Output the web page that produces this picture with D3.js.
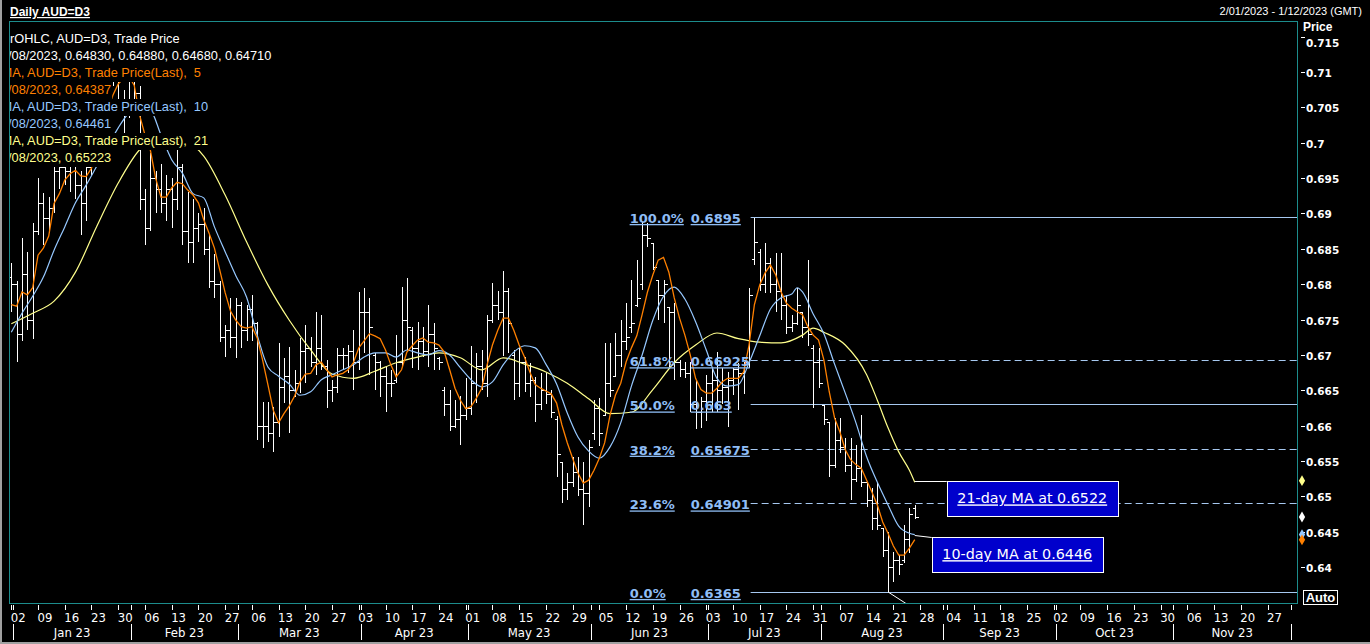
<!DOCTYPE html>
<html><head><meta charset="utf-8">
<script src="https://cdn.jsdelivr.net/npm/d3@7"></script>
<style>html,body{margin:0;padding:0;background:#000;overflow:hidden}svg{display:block}</style>
</head><body><svg id="c" width="1370" height="644"></svg>
<script>
// ---------------- DATA ----------------
// trading-day index 0 = Mon 02 Jan 2023, weekdays only
const opens = [.6810,.6800,.6730,.6815,.6750,.6875,.6915,.6893,.6908,.6960,
.6965,.6960,.6968,.6940,.6915,.6965,.7008,.7025,.7085,.7115,
.7105,.7055,.7055,.7135,.7070,.6920,.6880,.6950,.6935,.6915,
.6935,.6920,.6965,.6875,.6860,.6880,.6885,.6850,.6805,.6800,
.6725,.6735,.6725,.6770,.6735,.6765,.6745,.6600,.6600,.6590,
.6605,.6655,.6670,.6650,.6660,.6705,.6710,.6690,.6710,.6685,
.6650,.6655,.6700,.6700,.6705,.6690,.6760,.6760,.6700,.6690,
.6670,.6660,.6665,.6690,.6750,.6735,.6710,.6720,.6705,.6730,
.6695,.6650,.6630,.6600,.6610,.6615,.6625,.6660,.6685,.6660,
.6750,.6770,.6760,.6790,.6700,.6660,.6690,.6660,.6665,.6630,
.6650,.6645,.6610,.6548,.6510,.6520,.6535,.6510,.6505,.6590,
.6625,.6615,.6660,.6670,.6700,.6720,.6740,.6770,.6800,.6870,
.6858,.6806,.6785,.6768,.6760,.6690,.6680,.6675,.6630,.6620,
.6635,.6660,.6665,.6650,.6655,.6665,.6680,.6675,.6690,.6835,
.6845,.6800,.6830,.6800,.6790,.6770,.6740,.6745,.6761,.6740,
.6710,.6690,.6629,.6605,.6545,.6580,.6570,.6545,.6525,.6540,
.6520,.6495,.6470,.6456,.6425,.6400,.6410,.6410,.6440,.6483];
const highs = [.6830,.6805,.6865,.6845,.6887,.6950,.6929,.6923,.6969,.6992,
.6995,.6990,.7063,.6960,.6975,.7020,.7030,.7090,.7140,.7143,
.7120,.7075,.7140,.7158,.7080,.6935,.6985,.6960,.6970,.6955,
.6950,.6990,.6970,.6930,.6920,.6900,.6908,.6870,.6842,.6805,
.6742,.6780,.6780,.6775,.6770,.6785,.6747,.6634,.6634,.6627,
.6717,.6696,.6711,.6679,.6724,.6743,.6726,.6760,.6757,.6693,
.6665,.6710,.6710,.6714,.6735,.6789,.6795,.6781,.6703,.6692,
.6683,.6679,.6728,.6796,.6809,.6740,.6747,.6740,.6771,.6745,
.6697,.6655,.6651,.6636,.6642,.6667,.6712,.6703,.6707,.6757,
.6802,.6790,.6818,.6795,.6707,.6710,.6697,.6689,.6669,.6675,
.6675,.6651,.6613,.6548,.6533,.6556,.6556,.6548,.6580,.6636,
.6639,.6717,.6717,.6731,.6750,.6774,.6806,.6834,.6888,.6886,
.6858,.6806,.6806,.6768,.6774,.6693,.6690,.6690,.6665,.6640,
.6672,.6682,.6704,.6682,.6676,.6682,.6689,.6690,.6795,.6894,
.6850,.6858,.6837,.6844,.6844,.6785,.6757,.6795,.6761,.6834,
.6714,.6710,.6629,.6605,.6611,.6611,.6583,.6583,.6573,.6615,
.6520,.6512,.6520,.6456,.6450,.6422,.6417,.6460,.6483,.6488];
const lows = [.6760,.6690,.6720,.6735,.6722,.6870,.6855,.6872,.6900,.6935,
.6940,.6930,.6920,.6870,.6890,.6955,.6985,.7000,.7080,.7080,
.7050,.7000,.7035,.7060,.6905,.6856,.6875,.6900,.6900,.6890,
.6880,.6905,.6855,.6830,.6830,.6860,.6841,.6795,.6781,.6719,
.6697,.6710,.6696,.6710,.6720,.6720,.6580,.6568,.6577,.6563,
.6584,.6632,.6590,.6641,.6646,.6661,.6683,.6672,.6679,.6625,
.6634,.6646,.6679,.6675,.6651,.6679,.6703,.6672,.6651,.6641,
.6620,.6640,.6660,.6683,.6707,.6682,.6679,.6697,.6683,.6679,
.6679,.6613,.6592,.6597,.6573,.6608,.6615,.6632,.6651,.6641,
.6745,.6750,.6698,.6703,.6636,.6641,.6648,.6641,.6605,.6622,
.6630,.6611,.6528,.6491,.6495,.6514,.6500,.6460,.6485,.6580,
.6572,.6613,.6641,.6669,.6683,.6707,.6731,.6768,.6792,.6853,
.6820,.6750,.6745,.6683,.6665,.6669,.6668,.6620,.6595,.6597,
.6606,.6620,.6620,.6630,.6598,.6644,.6622,.6645,.6682,.6827,
.6790,.6788,.6788,.6761,.6750,.6729,.6733,.6743,.6724,.6712,
.6625,.6653,.6601,.6528,.6540,.6562,.6535,.6495,.6521,.6514,
.6485,.6453,.6453,.6415,.6365,.6379,.6389,.6406,.6420,.6468];
const closes = [.6800,.6730,.6815,.6750,.6875,.6915,.6893,.6908,.6960,.6965,
.6960,.6968,.6940,.6915,.6965,.7008,.7025,.7085,.7115,.7105,
.7055,.7055,.7135,.7070,.6920,.6880,.6950,.6935,.6915,.6935,
.6920,.6965,.6875,.6860,.6880,.6885,.6850,.6805,.6800,.6725,
.6735,.6725,.6770,.6735,.6765,.6745,.6600,.6600,.6590,.6605,
.6655,.6670,.6650,.6660,.6705,.6710,.6690,.6710,.6685,.6650,
.6655,.6700,.6700,.6705,.6690,.6760,.6760,.6740,.6690,.6670,
.6660,.6660,.6690,.6750,.6740,.6710,.6720,.6705,.6730,.6710,
.6690,.6630,.6600,.6610,.6615,.6625,.6660,.6685,.6660,.6750,
.6770,.6760,.6790,.6745,.6660,.6690,.6660,.6665,.6630,.6650,
.6645,.6620,.6560,.6510,.6520,.6535,.6510,.6505,.6570,.6625,
.6590,.6660,.6650,.6700,.6720,.6725,.6745,.6780,.6870,.6865,
.6825,.6785,.6800,.6760,.6690,.6680,.6675,.6630,.6620,.6635,
.6660,.6665,.6650,.6655,.6665,.6680,.6675,.6690,.6785,.6860,
.6800,.6830,.6800,.6790,.6770,.6740,.6745,.6770,.6740,.6730,
.6690,.6660,.6610,.6545,.6580,.6570,.6545,.6525,.6540,.6520,
.6495,.6470,.6460,.6425,.6400,.6410,.6405,.6440,.6475,.6471];
// 5-day MA, one value per trading day
const ma5 = [.6771,.6769,.6789,.6785,.6795,.6841,.6851,.6868,.6914,.6928,
.6947,.6956,.6961,.6953,.6952,.6964,.6987,.7014,.7044,.7067,
.7083,.7091,.7094,.7081,.7039,.7011,.6990,.6950,.6923,.6923,
.6936,.6944,.6942,.6933,.6926,.6915,.6891,.6872,.6851,.6820,
.6788,.6762,.6749,.6740,.6738,.6740,.6724,.6693,.6658,.6622,
.6604,.6617,.6628,.6642,.6662,.6673,.6674,.6686,.6690,.6679,
.6669,.6672,.6674,.6679,.6689,.6710,.6720,.6730,.6727,.6723,
.6707,.6686,.6669,.6679,.6704,.6713,.6721,.6724,.6718,.6717,
.6714,.6704,.6679,.6653,.6636,.6624,.6627,.6639,.6653,.6686,
.6714,.6735,.6752,.6752,.6735,.6714,.6697,.6676,.6658,.6653,
.6649,.6645,.6632,.6601,.6576,.6554,.6533,.6519,.6523,.6537,
.6554,.6576,.6615,.6643,.6660,.6690,.6710,.6727,.6757,.6789,
.6813,.6834,.6838,.6817,.6781,.6752,.6728,.6700,.6667,.6651,
.6646,.6646,.6653,.6662,.6667,.6667,.6667,.6676,.6714,.6771,
.6799,.6816,.6827,.6813,.6789,.6773,.6766,.6761,.6757,.6740,
.6728,.6721,.6693,.6648,.6611,.6591,.6566,.6552,.6545,.6540,
.6523,.6506,.6488,.6464,.6448,.6430,.6417,.6417,.6427,.6439];
// 10-day MA [day index, value]
const ma10 = [[0,.6732],[2,.6759],[4,.6783],[6,.6810],[8,.6848],[10,.6881],[12,.6915],[14,.6940],[16,.6967],[18,.6994],[20,.7021],[22,.7042],[24,.7050],[26,.7046],[28,.7011],[30,.6976],[32,.6957],[34,.6928],[36,.6922],[38,.6881],[40,.6846],[42,.6812],[44,.6782],[46,.6728],[48,.6683],[50,.6670],[52,.6659],[54,.6643],[56,.6648],[58,.6665],[60,.6672],[62,.6679],[64,.6686],[66,.6697],[68,.6703],[70,.6703],[72,.6697],[74,.6707],[76,.6703],[78,.6700],[80,.6706],[82,.6700],[84,.6682],[86,.6665],[88,.6655],[90,.6662],[92,.6686],[94,.6704],[96,.6713],[98,.6710],[100,.6687],[102,.6659],[104,.6618],[106,.6584],[108,.6564],[110,.6554],[112,.6570],[114,.6604],[116,.6656],[118,.6700],[120,.6749],[122,.6783],[124,.6796],[126,.6779],[128,.6747],[130,.6707],[132,.6667],[134,.6656],[136,.6658],[138,.6689],[140,.6727],[142,.6765],[144,.6781],[146,.6786],[147,.6795],[148,.6789],[150,.6758],[152,.6730],[154,.6687],[156,.6646],[158,.6604],[160,.6556],[162,.6520],[164,.6488],[166,.6458],[168,.6448],[169,.6446]];
// 21-day MA [day index, value]
const ma21 = [[0,.6744],[4,.6759],[8,.6776],[12,.6817],[16,.6882],[20,.6943],[24,.6990],[28,.7008],[32,.7004],[36,.6981],[40,.6926],[44,.6860],[48,.6799],[52,.6749],[56,.6707],[60,.6673],[64,.6667],[68,.6677],[72,.6689],[76,.6697],[80,.6703],[84,.6696],[88,.6679],[92,.6696],[96,.6687],[100,.6676],[104,.6660],[108,.6638],[112,.6617],[116,.6619],[120,.6651],[124,.6689],[128,.6714],[132,.6731],[136,.6723],[140,.6718],[144,.6717],[148,.6728],[150,.6738],[152,.6732],[156,.6714],[160,.6672],[162,.6636],[164,.6597],[166,.6563],[168,.6537],[169,.6520]];
// Fibonacci retracement
const fibPct = ["100.0%","61.8%","50.0%","38.2%","23.6%","0.0%"];
const fibVal = [0.6895,0.66925,0.663,0.65675,0.64901,0.6365];
const fibValLabel = ["0.6895","0.66925","0.663","0.65675","0.64901","0.6365"];
const fibDashed = [false,true,false,true,true,false];
const fibStartDay = 138.3;
// axis labels
const priceTicks = [0.64,0.645,0.65,0.655,0.66,0.665,0.67,0.675,0.68,0.685,0.69,0.695,0.70,0.705,0.71,0.715];
const priceTickLabels = ["0.64","0.645","0.65","0.655","0.66","0.665","0.67","0.675","0.68","0.685","0.69","0.695","0.7","0.705","0.71","0.715"];
const weekLabels = ["02","09","16","23","30","06","13","20","27","06","13","20","27","03","10","17","24","01","08","15","22","29","05","12","19","26","03","10","17","24","31","07","14","21","28","04","11","18","25","02","09","16","23","30","06","13","20","27"];
const monthLabels = ["Jan 23","Feb 23","Mar 23","Apr 23","May 23","Jun 23","Jul 23","Aug 23","Sep 23","Oct 23","Nov 23"];
const monthStartDay = [0,22,42,65,85,108,130,151,174,195,217,239];
const legendRows = [
 ["rOHLC, AUD=D3, Trade Price","bar",10],
 ["/08/2023, 0.64830, 0.64880, 0.64680, 0.64710","bar",8],
 ["MA, AUD=D3, Trade Price(Last),  5","ma5",1.5],
 ["/08/2023, 0.64387","ma5",8],
 ["MA, AUD=D3, Trade Price(Last),  10","ma10",1.5],
 ["/08/2023, 0.64461","ma10",8],
 ["MA, AUD=D3, Trade Price(Last),  21","ma21",1.5],
 ["/08/2023, 0.65223","ma21",8]];
const lastVals = {ma21:0.65223, bar:0.6471, ma10:0.64461, ma5:0.64387};
const notes = [{text:"21-day MA at 0.6522", v:0.6522, dx:32, dy:0, w:171, h:35},
               {text:"10-day MA at 0.6446", v:0.6446, dx:17, dy:2, w:171, h:35}];

// ---------------- DRAW ----------------
const W=1370, H=644;
const P={l:9,t:21,r:1297,b:603};
const C={bar:"#ffffff", ma5:"#ff8000", ma10:"#96c8ff", ma21:"#ffff8c", fib:"#a6c8f0", fibText:"#8fbdf5", teal:"#1c8c8c"};
const svg=d3.select("#c");
svg.append("rect").attr("width",W).attr("height",H).attr("fill","#000");

const x=d3.scaleLinear().domain([-0.43,240.5]).range([P.l,P.r]);
const y=d3.scaleLinear().domain([0.63494,0.7172]).range([P.b,P.t]);

svg.append("defs").append("clipPath").attr("id","pc").append("rect")
  .attr("x",P.l).attr("y",P.t).attr("width",P.r-P.l).attr("height",P.b-P.t);
const plot=svg.append("g").attr("clip-path","url(#pc)");

// fib lines
const fx0=x(fibStartDay);
fibVal.forEach((v,k)=>{
  plot.append("line").attr("x1",fx0).attr("x2",P.r).attr("y1",Math.round(y(v))+0.5).attr("y2",Math.round(y(v))+0.5)
   .attr("stroke",C.fib).attr("stroke-width",1).attr("stroke-dasharray",fibDashed[k]?"7,4":null);
});

// OHLC bars
const bars=plot.append("g").attr("stroke",C.bar).attr("stroke-width",1).attr("shape-rendering","crispEdges");
closes.forEach((c,i)=>{
  const xi=Math.round(x(i))+0.5;
  bars.append("line").attr("x1",xi).attr("x2",xi).attr("y1",y(highs[i])).attr("y2",y(lows[i]));
  const yo=Math.round(y(opens[i]))+0.5, yc=Math.round(y(c))+0.5;
  bars.append("line").attr("x1",xi-3).attr("x2",xi).attr("y1",yo).attr("y2",yo);
  bars.append("line").attr("x1",xi).attr("x2",xi+3).attr("y1",yc).attr("y2",yc);
});
// small trend stub below the 0% level
plot.append("line").attr("x1",x(164)).attr("y1",y(0.6365)).attr("x2",x(167.5)).attr("y2",y(0.6348))
  .attr("stroke","#fff").attr("stroke-width",1);

// moving averages
const lineIdx=d3.line().x((d,i)=>x(i)).y(d=>y(d));
const linePair=d3.line().x(d=>x(d[0])).y(d=>y(d[1])).curve(d3.curveMonotoneX);
plot.append("path").attr("d",linePair(ma21)).attr("fill","none").attr("stroke",C.ma21).attr("stroke-width",1.2);
plot.append("path").attr("d",linePair(ma10)).attr("fill","none").attr("stroke",C.ma10).attr("stroke-width",1.2);
plot.append("path").attr("d",lineIdx(ma5)).attr("fill","none").attr("stroke",C.ma5).attr("stroke-width",1.3);

// fib labels
const fl=svg.append("g").attr("font-family","DejaVu Sans, Verdana, sans-serif").attr("font-weight","bold")
  .attr("font-size","13px").attr("fill",C.fibText).attr("text-decoration","underline");
fibVal.forEach((v,k)=>{
  fl.append("text").attr("x",fx0-121).attr("y",y(v)+6).text(fibPct[k]);
  fl.append("text").attr("x",fx0-60).attr("y",y(v)+6).text(fibValLabel[k]);
});

// annotation boxes
const xe=x(closes.length-1);
notes.forEach(n=>{
  const yv=y(n.v);
  const bx=xe+n.dx, by=yv+n.dy;
  svg.append("line").attr("x1",xe).attr("y1",Math.round(yv)+0.5).attr("x2",bx).attr("y2",Math.round(by)+0.5)
    .attr("stroke","#fff").attr("stroke-width",1);
  svg.append("rect").attr("x",Math.round(bx)+0.5).attr("y",Math.round(by)+0.5).attr("width",n.w).attr("height",n.h)
    .attr("fill","#0000cc").attr("stroke","#fff").attr("stroke-width",1);
  svg.append("text").attr("x",bx+n.w/2).attr("y",by+n.h/2+5).attr("text-anchor","middle")
    .attr("font-family","DejaVu Sans, Verdana, sans-serif").attr("font-size","14.3px").attr("fill","#fff")
    .attr("text-decoration","underline").text(n.text);
});

// legend rows (with black backing)
const lg=svg.append("g").attr("clip-path","url(#pc)");
legendRows.forEach((r,k)=>{
  const base=43+k*17;
  const t=lg.append("text").attr("x",r[2]).attr("y",base).attr("fill",C[r[1]])
    .attr("font-family","Liberation Sans, Arial, sans-serif").attr("font-size","12.8px")
    .attr("xml:space","preserve").style("white-space","pre").text(r[0]);
  const w=t.node().getComputedTextLength();
  lg.insert("rect",()=>t.node()).attr("x",P.l).attr("y",base-12).attr("width",r[2]+w-P.l+1).attr("height",17).attr("fill","#000");
});

// plot border
svg.append("rect").attr("x",P.l+0.5).attr("y",P.t+0.5).attr("width",P.r-P.l).attr("height",P.b-P.t)
  .attr("fill","none").attr("stroke",C.teal).attr("stroke-width",1);

// right price axis
const ra=svg.append("g").attr("font-family","DejaVu Sans, Verdana, sans-serif").attr("font-weight","bold").attr("font-size","10.5px").attr("fill","#fff");
priceTicks.forEach((v,k)=>{
  const yy=Math.round(y(v))+0.5;
  ra.append("line").attr("x1",P.r+4).attr("x2",P.r+8).attr("y1",yy).attr("y2",yy).attr("stroke","#fff").attr("stroke-width",1);
  const top = k===priceTicks.length-1;
  ra.append("text").attr("x",P.r+9).attr("y",yy+(top?9:4.5)).text(priceTickLabels[k]);
});
svg.append("text").attr("x",P.r+6).attr("y",31).attr("fill","#fff").attr("font-family","Liberation Sans, Arial, sans-serif")
  .attr("font-weight","bold").attr("font-size","12px").text("Price");
// last-value diamonds
["ma21","bar","ma10","ma5"].forEach(key=>{
  const yy=y(lastVals[key]);
  svg.append("path").attr("d",d3.symbol(d3.symbolDiamond,34)()).attr("transform",`translate(${P.r+5},${yy})`).attr("fill",C[key]);
});
// Auto box
svg.append("rect").attr("x",P.r+6.5).attr("y",590.5).attr("width",34).attr("height",14).attr("fill","#000").attr("stroke","#fff").attr("stroke-width",1);
svg.append("text").attr("x",P.r+23.5).attr("y",602).attr("text-anchor","middle").attr("fill","#fff")
  .attr("font-family","Liberation Sans, Arial, sans-serif").attr("font-weight","bold").attr("font-size","13px").text("Auto");

// bottom date axis
const ba=svg.append("g").attr("fill","#fff").attr("font-family","Liberation Sans Narrow, DejaVu Sans Condensed, Arial Narrow, sans-serif").attr("font-size","13px");
weekLabels.forEach((lab,k)=>{
  const xx=Math.round(x(k*5))+0.5;
  ba.append("line").attr("x1",xx).attr("x2",xx).attr("y1",P.b+2).attr("y2",P.b+7).attr("stroke","#fff");
  ba.append("text").attr("x",x(k*5)-0.5).attr("y",622).text(lab);
});
monthStartDay.forEach((d,k)=>{
  const xx=Math.round(x(d)+2)+0.5;
  ba.append("line").attr("x1",xx).attr("x2",xx).attr("y1",P.b+2).attr("y2",P.b+7).attr("stroke","#fff");
  ba.append("line").attr("x1",xx).attr("x2",xx).attr("y1",624).attr("y2",640).attr("stroke","#fff");
  if(k<monthLabels.length){
    const xn=x(monthStartDay[k+1])+2;
    ba.append("text").attr("x",(x(d)+2+xn)/2).attr("y",637).attr("text-anchor","middle").text(monthLabels[k]);
  }
});

// header
svg.append("text").attr("x",10).attr("y",16).attr("fill","#fff").attr("font-family","Liberation Sans, Arial, sans-serif")
  .attr("font-weight","bold").attr("font-size","12px").attr("text-decoration","underline").text("Daily AUD=D3");
svg.append("text").attr("x",1362).attr("y",15).attr("text-anchor","end").attr("fill","#fff").attr("font-family","Liberation Sans, Arial, sans-serif")
  .attr("font-size","11px").text("2/01/2023 - 1/12/2023 (GMT)");
// window frame
svg.append("line").attr("x1",1).attr("x2",1).attr("y1",0).attr("y2",H).attr("stroke","#a0a0a0").attr("stroke-width",2);
svg.append("line").attr("x1",0).attr("x2",W).attr("y1",H-1).attr("y2",H-1).attr("stroke","#a0a0a0").attr("stroke-width",2);
</script></body></html>
